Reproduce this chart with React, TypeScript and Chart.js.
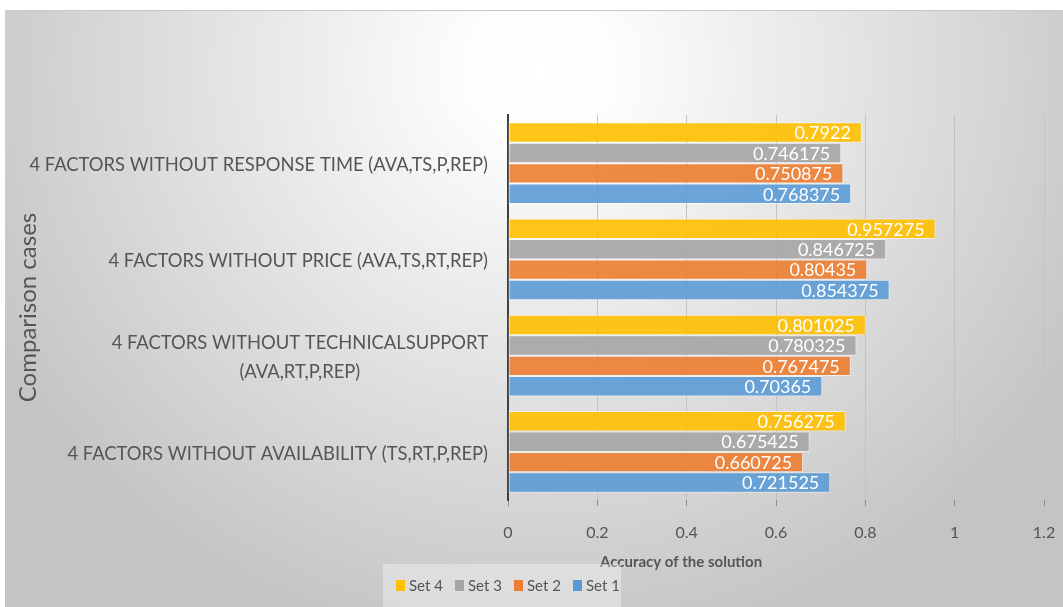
import React, { useEffect, useRef } from "react";
import { Chart, registerables } from "chart.js";

Chart.register(...registerables);

// Comparison cases (y axis), top to bottom; a nested array is a multi-line label
const categories: string[][] = [
  ["4 FACTORS WITHOUT RESPONSE TIME (AVA,TS,P,REP)"],
  ["4 FACTORS WITHOUT PRICE (AVA,TS,RT,REP)"],
  ["4 FACTORS WITHOUT TECHNICALSUPPORT", "(AVA,RT,P,REP)"],
  ["4 FACTORS WITHOUT AVAILABILITY (TS,RT,P,REP)"],
];

// Accuracy per set, one value per comparison case
const set4 = [0.7922, 0.957275, 0.801025, 0.756275];
const set3 = [0.746175, 0.846725, 0.780325, 0.675425];
const set2 = [0.750875, 0.80435, 0.767475, 0.660725];
const set1 = [0.768375, 0.854375, 0.70365, 0.721525];

const seriesNames = ["Set 4", "Set 3", "Set 2", "Set 1"];
const seriesValues = [set4, set3, set2, set1];
const seriesColors = [
  "rgba(255,192,0,0.9)",
  "rgba(165,165,165,0.9)",
  "rgba(237,125,49,0.9)",
  "rgba(91,155,213,0.9)",
];
const legendSwatches = ["#FFC000", "#A5A5A5", "#ED7D31", "#5B9BD5"];

const xMin = 0;
const xMax = 1.2;
const xStep = 0.2;

const xTitle = "Accuracy of the solution";
const yTitle = "Comparison cases";

const FONT = "Lato, 'Open Sans', sans-serif";
const TEXT = "#555555";

// Soft radial backdrop behind the whole chart
const backdrop = {
  id: "backdrop",
  beforeDraw(chart: any) {
    const { ctx, width, height } = chart;
    ctx.save();
    ctx.fillStyle = "#ffffff";
    ctx.fillRect(0, 0, width, height);
    const x0 = 5;
    const y0 = 10;
    ctx.save();
    ctx.beginPath();
    ctx.rect(x0, y0, width - x0, height - y0);
    ctx.clip();
    ctx.translate(540, 70);
    ctx.scale(1, 0.95);
    const g = ctx.createRadialGradient(0, 0, 0, 0, 0, 620);
    g.addColorStop(0, "#ffffff");
    g.addColorStop(0.12, "#fdfdfd");
    g.addColorStop(1, "#c4c4c4");
    ctx.fillStyle = g;
    ctx.fillRect(-700, -200, 1400, 900);
    ctx.restore();
    ctx.strokeStyle = "#c8c8c8";
    ctx.lineWidth = 1;
    ctx.beginPath();
    ctx.moveTo(x0, y0 + 0.5);
    ctx.lineTo(width, y0 + 0.5);
    ctx.stroke();
    ctx.restore();
  },
};

// Category names: right-aligned block, each line centred inside the block
const categoryLabels = {
  id: "categoryLabels",
  afterDraw(chart: any) {
    const { ctx, chartArea } = chart;
    const yScale = chart.scales.y;
    ctx.save();
    ctx.font = `18.4px ${FONT}`;
    ctx.fillStyle = TEXT;
    ctx.textAlign = "center";
    ctx.textBaseline = "middle";
    const lineH = 29;
    const right = chartArea.left - 20;
    (chart.data.labels as string[][]).forEach((lines, i) => {
      const y = yScale.getPixelForValue(i) + 2;
      const w = Math.max(...lines.map((l) => ctx.measureText(l).width));
      const cx = right - w / 2;
      const start = y - ((lines.length - 1) * lineH) / 2;
      lines.forEach((l, k) => ctx.fillText(l, cx, start + k * lineH));
    });
    ctx.restore();
  },
};

// Value text at the inner end of each bar
const valueLabels = {
  id: "valueLabels",
  afterDatasetsDraw(chart: any) {
    const { ctx } = chart;
    ctx.save();
    ctx.font = `18px ${FONT}`;
    ctx.fillStyle = "#ffffff";
    ctx.textAlign = "right";
    ctx.textBaseline = "middle";
    chart.data.datasets.forEach((ds: any, di: number) => {
      const meta = chart.getDatasetMeta(di);
      meta.data.forEach((bar: any, i: number) => {
        ctx.fillText(String(ds.data[i]), bar.x - 11, bar.y + 1);
      });
    });
    ctx.restore();
  },
};

// X axis title and legend strip beneath the plot
const bottomTexts = {
  id: "bottomTexts",
  afterDraw(chart: any) {
    const { ctx } = chart;
    ctx.save();
    ctx.font = `bold 15px ${FONT}`;
    ctx.fillStyle = TEXT;
    ctx.textAlign = "center";
    ctx.textBaseline = "middle";
    ctx.fillText(xTitle, 681, 562);

    ctx.fillStyle = "rgba(255,255,255,0.35)";
    ctx.fillRect(383, 564, 238, 43);
    ctx.font = `15px ${FONT}`;
    ctx.textAlign = "left";
    const y = 585;
    chart.data.datasets.forEach((ds: any, i: number) => {
      const x = 396 + i * 59;
      ctx.fillStyle = legendSwatches[i];
      ctx.fillRect(x, y - 5, 9, 11);
      ctx.fillStyle = TEXT;
      ctx.fillText(ds.label, x + 13, y + 1);
    });
    ctx.restore();
  },
};

export default function App() {
  const canvasRef = useRef<HTMLCanvasElement | null>(null);

  useEffect(() => {
    const canvas = canvasRef.current;
    if (!canvas) return;
    const chart = new Chart(canvas, {
      type: "bar",
      data: {
        labels: categories as any,
        datasets: seriesNames.map((name, i) => ({
          label: name,
          data: seriesValues[i],
          backgroundColor: seriesColors[i],
          borderColor: "rgba(255,255,255,0.55)",
          borderWidth: 1,
          borderSkipped: false,
          categoryPercentage: 0.85,
          barPercentage: 1,
        })),
      },
      options: {
        indexAxis: "y",
        responsive: false,
        animation: false,
        layout: { padding: { left: 5, top: 115, right: 19, bottom: 0 } },
        plugins: {
          legend: { display: false },
          tooltip: { enabled: false },
        },
        scales: {
          x: {
            type: "linear",
            position: "bottom",
            min: xMin,
            max: xMax,
            ticks: {
              stepSize: xStep,
              color: TEXT,
              font: { family: FONT, size: 16 },
              padding: 17,
              callback: (v: any) => String(Number(Number(v).toFixed(1))),
            },
            grid: {
              color: "#c2c2c2",
              tickColor: "#8c8c8c",
              tickLength: 6,
              lineWidth: 1,
            },
            border: { display: false },
            title: { display: false, text: xTitle },
            afterFit: (scale: any) => {
              scale.height = 107;
              scale.paddingLeft = 0;
              scale.paddingRight = 0;
            },
          },
          y: {
            type: "category",
            ticks: { display: false },
            grid: { display: false },
            border: { display: true, color: "#404040", width: 2 },
            title: {
              display: true,
              text: yTitle,
              color: TEXT,
              font: { family: FONT, size: 24 },
              padding: { top: 9, bottom: 0 },
            },
            afterFit: (scale: any) => {
              scale.width = 503;
              scale.paddingTop = 0;
              scale.paddingBottom = 0;
            },
          },
        },
      },
      plugins: [backdrop, categoryLabels, valueLabels, bottomTexts],
    } as any);
    return () => chart.destroy();
  }, []);

  return (
    <div style={{ position: "absolute", left: 0, top: 0, width: 1063, height: 607 }}>
      <canvas ref={canvasRef} width={1063} height={607} />
    </div>
  );
}
